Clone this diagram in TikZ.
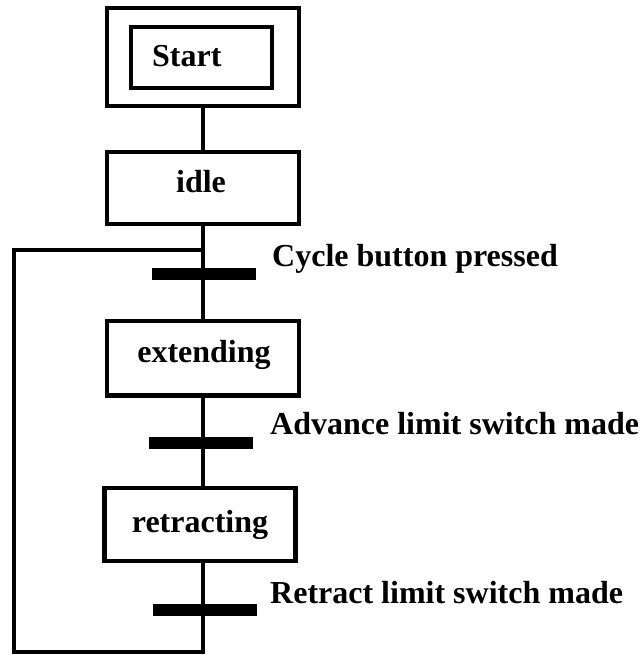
\documentclass[tikz,border=0pt]{standalone}
\usepackage{fontspec}
\setmainfont{Liberation Serif}
\begin{document}
\begin{tikzpicture}[x=1pt,y=-1pt,
  stepbox/.style={draw, rectangle, line width=4.7pt, inner sep=0pt, minimum width=192pt},
  txt/.style={font=\fontsize{32}{38}\selectfont\bfseries, inner sep=0pt},
  bar/.style={fill=black, rectangle, inner sep=0pt, minimum width=104pt, minimum height=12pt},
  wire/.style={line width=4.7pt}]
\useasboundingbox (0,0) rectangle (642,655);

% initial step: double frame
\node[stepbox, minimum height=98pt] (start) at (203,57) {};
\node[stepbox, minimum width=141pt, minimum height=61pt] (startin) at (201.5,57.5) {};
\node[txt, anchor=base west] (starttext) at (152,67) {Start};

% ordinary steps
\node[stepbox, minimum height=72pt] (idle) at (203,188) {};
\node[txt, anchor=base] (idletext) at (201,192) {idle};

\node[stepbox, minimum height=74.5pt] (extending) at (203,358.25) {};
\node[txt, anchor=base] (extendingtext) at (204,362) {extending};

\node[stepbox, minimum width=191pt, minimum height=73pt] (retracting) at (200,524.5) {};
\node[txt, anchor=base] (retractingtext) at (200,532) {retracting};

% transitions
\node[bar] (t1) at (204,274) {};
\node[bar] (t2) at (201,442.5) {};
\node[bar] (t3) at (204.5,610) {};

\node[txt, anchor=base west] (c1) at (272,266.5) {Cycle button pressed};
\node[txt, anchor=base west] (c2) at (270,434) {Advance limit switch made};
\node[txt, anchor=base west] (c3) at (270,603) {Retract limit switch made};

% return loop corners
\coordinate (loopjoin) at (203,250);
\coordinate (looptl) at (14,250);
\coordinate (loopbl) at (14,652);
\coordinate (loopbot) at (203,652);

% links
\draw[wire] (start.south) -- (idle.north);
\draw[wire] (idle.south) -- (extending.north);
\draw[wire] (extending.south) -- (extending.south |- retracting.north);
\draw[wire] (retracting.south -| extending.south) -- (loopbot) -- (loopbl) -- (looptl) -- (loopjoin);
\end{tikzpicture}
\end{document}
